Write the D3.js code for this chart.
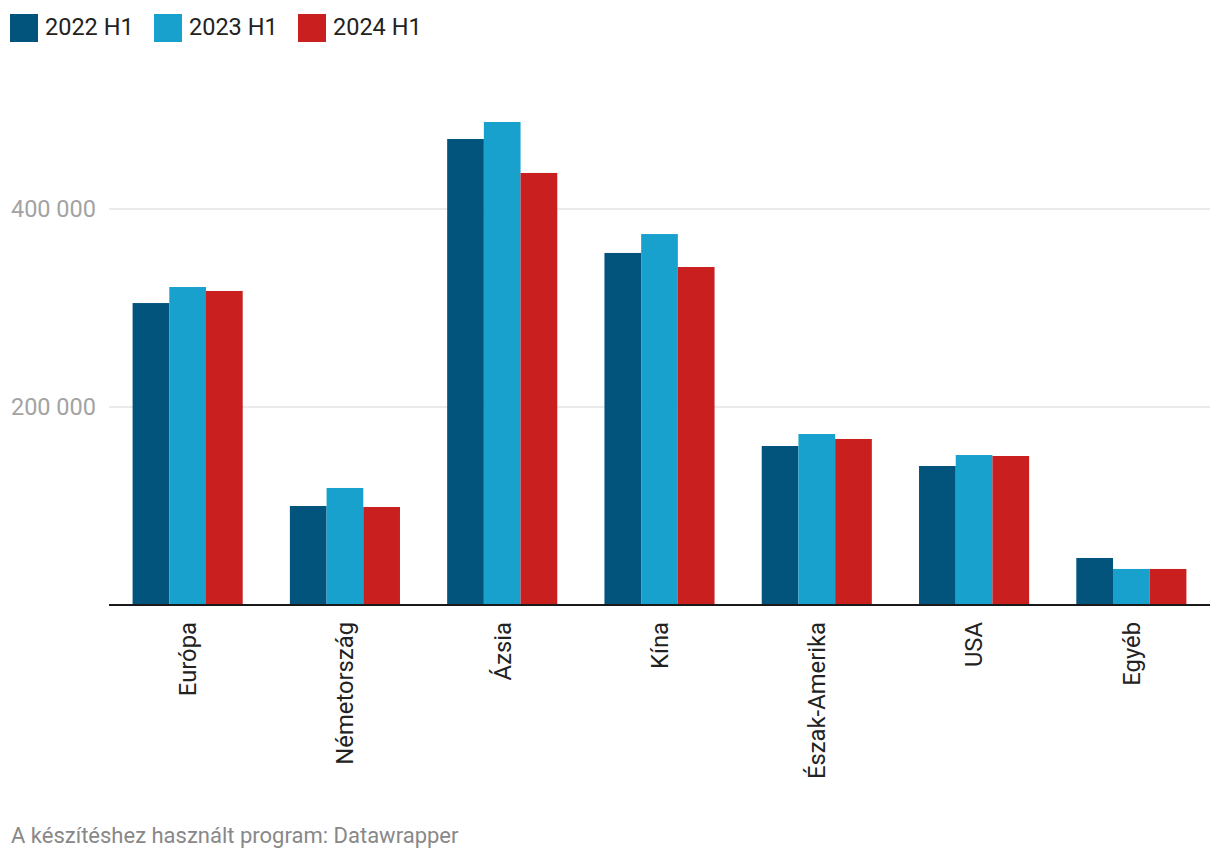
<!DOCTYPE html>
<html><head><meta charset="utf-8">
<script src="https://cdn.jsdelivr.net/npm/d3@7"></script>
<style>
body{margin:0;background:#fff;font-family:Roboto, "Noto Sans", sans-serif;}
</style></head>
<body>
<svg id="chart" width="1220" height="862"></svg>
<script>
const categories = ["Európa","Németország","Ázsia","Kína","Észak-Amerika","USA","Egyéb"];
const seriesNames = ["2022 H1","2023 H1","2024 H1"];
const colors = ["#02547d","#19a1cd","#c91f1f"];
const s2022 = [305000,100000,470700,355600,160600,140400,47500];
const s2023 = [321200,118200,487900,374700,172700,151500,36400];
const s2024 = [317200,99000,436400,341400,167700,150500,36400];
const yTicks = [200000,400000];
const footer = "A készítéshez használt program: Datawrapper";

const series = [s2022,s2023,s2024];
const svg = d3.select("#chart");
const mLeft = 109, mRight = 1210, mTop = 40, mBottom = 605;

const x0 = d3.scaleBand().domain(categories).range([mLeft, mRight]).paddingInner(0.3).paddingOuter(0.15);
const x1 = d3.scaleBand().domain(seriesNames).range([0, x0.bandwidth()]);
const y = d3.scaleLinear().domain([0, 200000/198*(mBottom-mTop)]).range([mBottom, mTop]);

// grid
svg.append("g").selectAll("line").data(yTicks).join("line")
  .attr("x1", mLeft).attr("x2", mRight)
  .attr("y1", d=>y(d)).attr("y2", d=>y(d))
  .attr("stroke","#e5e5e5").attr("stroke-width",1.5);
svg.append("g").selectAll("text").data(yTicks).join("text")
  .attr("x", 96).attr("y", d=>y(d)).attr("dy","0.35em")
  .attr("text-anchor","end").attr("fill","#a3a3a3")
  .style("font-size","23.5px")
  .text(d=>d3.format(",")(d).replace(/,/g," "));

// bars
const g = svg.append("g").selectAll("g").data(categories).join("g")
  .attr("transform", d=>`translate(${x0(d)},0)`);
g.selectAll("rect").data((c,i)=>seriesNames.map((s,j)=>({s, v: series[j][i], j})))
  .join("rect")
  .attr("x", d=>x1(d.s)).attr("width", x1.bandwidth())
  .attr("y", d=>y(d.v)).attr("height", d=>y(0)-y(d.v))
  .attr("fill", d=>colors[d.j]);

// baseline
svg.append("line").attr("x1", mLeft).attr("x2", mRight)
  .attr("y1", y(0)).attr("y2", y(0)).attr("stroke","#1a1a1a").attr("stroke-width",2);

// category labels
svg.append("g").selectAll("text").data(categories).join("text")
  .attr("transform", d=>`translate(${x0(d)+x0.bandwidth()/2},622) rotate(-90)`)
  .attr("text-anchor","end").attr("dy","0.35em")
  .attr("fill","#222").style("font-size","23.8px")
  .text(d=>d);

// legend
const legX = [10,154,298];
const leg = svg.append("g").selectAll("g").data(seriesNames).join("g")
  .attr("transform",(d,i)=>`translate(${legX[i]},14)`);
leg.append("rect").attr("width",28).attr("height",28).attr("fill",(d,i)=>colors[i]);
leg.append("text").attr("x",35).attr("y",13).attr("dy","0.35em")
  .attr("fill","#222").style("font-size","23.5px").text(d=>d);

// footer
svg.append("text").attr("x",11).attr("y",843).attr("fill","#888")
  .style("font-size","22px").text(footer);
</script>
</body></html>
